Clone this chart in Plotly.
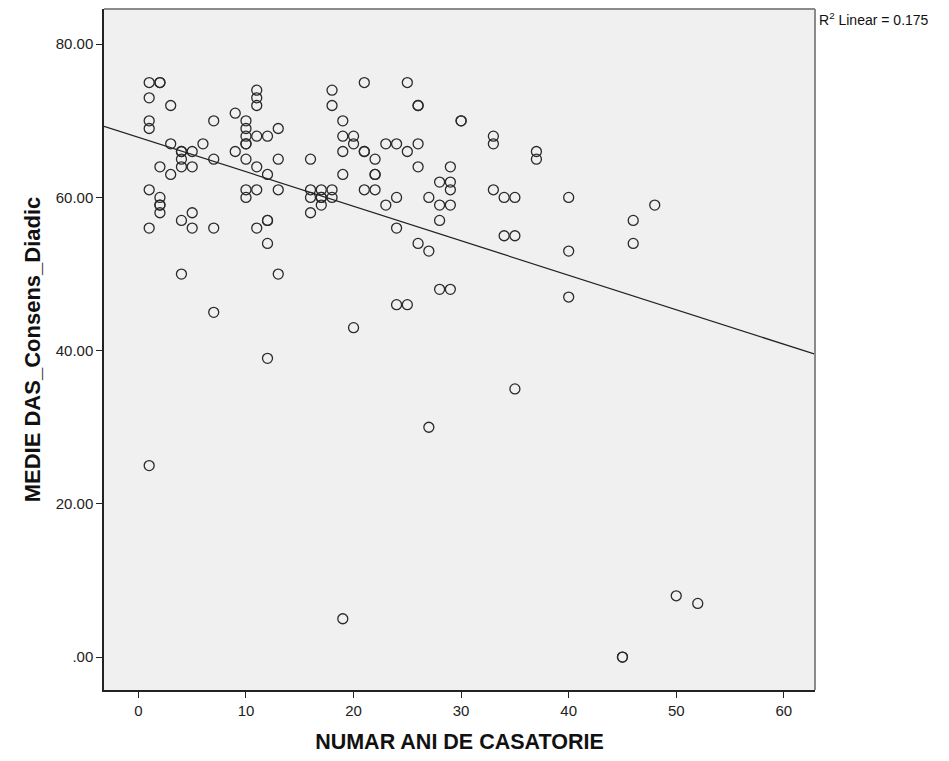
import numpy as np
import plotly.graph_objects as go

# Data: years of marriage (x) and mean DAS dyadic consensus (y)
years = [1]*7 + [2]*7 + [3]*3 + [4]*6 + [5]*4 + [6] + [7]*4 + [9]*2 + [10]*8 + [11]*7 + [12]*6 + [13]*4 \
    + [16]*4 + [17]*4 + [18]*4 + [19]*5 + [20]*3 + [21]*4 + [22]*4 + [23]*2 + [24]*4 + [25]*3 + [26]*5 \
    + [27]*3 + [28]*4 + [29]*5 + [30]*2 + [33]*3 + [34]*2 + [35]*3 + [37]*2 + [40]*3 + [45]*2 + [46]*2 \
    + [48] + [50] + [52]
consens = [75, 73, 70, 69, 61, 56, 25,
           75, 75, 64, 60, 59, 59, 58,
           72, 67, 63,
           66, 66, 65, 64, 57, 50,
           66, 64, 58, 56,
           67,
           70, 65, 56, 45,
           71, 66,
           70, 69, 68, 67, 67, 65, 61, 60,
           74, 73, 72, 68, 64, 61, 56,
           68, 63, 57, 57, 54, 39,
           69, 65, 61, 50,
           65, 61, 60, 58,
           61, 60, 60, 59,
           74, 72, 61, 60,
           70, 68, 66, 63, 5,
           68, 67, 43,
           75, 66, 66, 61,
           65, 63, 63, 61,
           67, 59,
           67, 60, 56, 46,
           75, 66, 46,
           72, 72, 67, 64, 54,
           60, 53, 30,
           62, 59, 57, 48,
           64, 62, 61, 59, 48,
           70, 70,
           68, 67, 61,
           60, 55,
           60, 55, 35,
           66, 65,
           60, 53, 47,
           0, 0,
           57, 54,
           59,
           8,
           7]

x_ticks = [0, 10, 20, 30, 40, 50, 60]
y_ticks = [0, 20, 40, 60, 80]
y_tick_labels = [".00", "20.00", "40.00", "60.00", "80.00"]
r2_label = "R<sup>2</sup> Linear = 0.175"

x_range = [-3.2, 62.9]
y_range = [-4.3, 84.6]

slope, intercept = np.polyfit(np.array(years, float), np.array(consens, float), 1)
line_x = np.array(x_range)
line_y = intercept + slope * line_x

fig = go.Figure()
fig.add_trace(go.Scatter(
    x=years, y=consens, mode="markers",
    marker=dict(symbol="circle-open", size=10, color="#2a2a2a", line=dict(width=1.3, color="#2a2a2a")),
    showlegend=False, hoverinfo="x+y"))
fig.add_trace(go.Scatter(
    x=line_x, y=line_y, mode="lines",
    line=dict(color="#222222", width=1.2), showlegend=False, hoverinfo="skip"))

axis_font = dict(family="Liberation Sans, Arial", size=15, color="#222222")
x_title_font = dict(family="Liberation Sans, Arial", size=21.5, color="#111111")
y_title_font = dict(family="Liberation Sans, Arial", size=22, color="#111111")

fig.update_layout(
    width=949, height=761,
    margin=dict(l=104, r=134, t=9, b=71),
    paper_bgcolor="white", plot_bgcolor="#f0f0f0",
    font=axis_font,
    xaxis=dict(range=x_range, tickvals=x_ticks, ticks="outside", ticklen=6, tickcolor="#222",
               showgrid=False, zeroline=False, showline=True, linecolor="#222", linewidth=1.5,
               tickfont=axis_font,
               title=dict(text="<b>NUMAR ANI DE CASATORIE</b>", font=x_title_font, standoff=16)),
    yaxis=dict(range=y_range, tickvals=y_ticks, ticktext=y_tick_labels, ticks="outside", ticklen=6,
               tickcolor="#222", showgrid=False, zeroline=False, showline=True, linecolor="#222",
               linewidth=1.5, tickfont=axis_font,
               title=dict(text="<b>MEDIE DAS_Consens_Diadic</b>", font=y_title_font, standoff=9)),
    shapes=[
        dict(type="line", xref="paper", yref="paper", x0=0, x1=1, y0=1, y1=1,
             line=dict(color="#8a8a8a", width=2)),
        dict(type="line", xref="paper", yref="paper", x0=1, x1=1, y0=0, y1=1,
             line=dict(color="#8a8a8a", width=2)),
    ],
    annotations=[dict(text=r2_label, xref="paper", yref="paper", x=1.003, y=0.985,
                      xanchor="left", yanchor="middle", showarrow=False,
                      font=dict(family="Liberation Sans, Arial", size=14, color="#111"))],
)

fig.write_html("out.html")
